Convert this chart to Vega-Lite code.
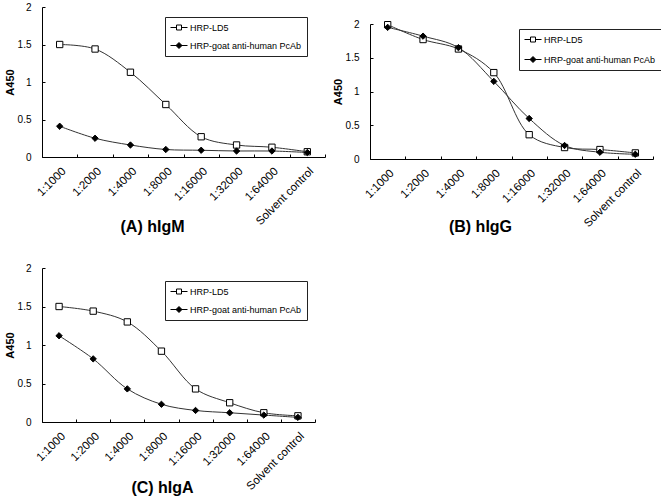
{
  "$schema": "https://vega.github.io/schema/vega-lite/v6.json",
  "background": "white",
  "padding": {"left": 4, "top": 2, "right": 0, "bottom": 0},
  "config": {
    "font": "Liberation Sans",
    "view": {"stroke": null},
    "axis": {"grid": false, "domainColor": "#000", "tickColor": "#000", "labelColor": "#000", "titleColor": "#000", "labelFont": "Liberation Sans", "titleFont": "Liberation Sans", "domainWidth": 1, "tickWidth": 1},
    "axisX": {"title": null, "labelAngle": -45, "labelFontSize": 11.5, "tickBand": "extent", "tickSize": -3, "labelPadding": 11},
    "axisY": {"values": [0, 0.5, 1, 1.5, 2], "format": "~g", "titleFontSize": 11, "titleFontWeight": "bold", "titlePadding": 2, "labelFontSize": 10, "tickSize": -3, "labelPadding": 14},
    "legend": {"title": null, "orient": "none", "fillColor": "white", "strokeColor": "#222", "padding": 5, "symbolSize": 100, "labelFontSize": 9, "labelOffset": 9, "labelColor": "#000", "labelFont": "Liberation Sans", "symbolStrokeWidth": 1, "symbolOpacity": 1},
    "title": {"font": "Liberation Sans", "color": "#000", "fontSize": 16, "fontWeight": "bold", "orient": "bottom", "frame": "group", "anchor": "middle"}
  },
  "datasets": {
    "d": [
      {"panel": "A", "series": "HRP-LD5", "dilution": "1:1000", "A450": 1.50},
      {"panel": "A", "series": "HRP-LD5", "dilution": "1:2000", "A450": 1.44},
      {"panel": "A", "series": "HRP-LD5", "dilution": "1:4000", "A450": 1.13},
      {"panel": "A", "series": "HRP-LD5", "dilution": "1:8000", "A450": 0.70},
      {"panel": "A", "series": "HRP-LD5", "dilution": "1:16000", "A450": 0.27},
      {"panel": "A", "series": "HRP-LD5", "dilution": "1:32000", "A450": 0.16},
      {"panel": "A", "series": "HRP-LD5", "dilution": "1:64000", "A450": 0.13},
      {"panel": "A", "series": "HRP-LD5", "dilution": "Solvent control", "A450": 0.07},
      {"panel": "A", "series": "HRP-goat anti-human PcAb", "dilution": "1:1000", "A450": 0.41},
      {"panel": "A", "series": "HRP-goat anti-human PcAb", "dilution": "1:2000", "A450": 0.25},
      {"panel": "A", "series": "HRP-goat anti-human PcAb", "dilution": "1:4000", "A450": 0.16},
      {"panel": "A", "series": "HRP-goat anti-human PcAb", "dilution": "1:8000", "A450": 0.10},
      {"panel": "A", "series": "HRP-goat anti-human PcAb", "dilution": "1:16000", "A450": 0.09},
      {"panel": "A", "series": "HRP-goat anti-human PcAb", "dilution": "1:32000", "A450": 0.08},
      {"panel": "A", "series": "HRP-goat anti-human PcAb", "dilution": "1:64000", "A450": 0.08},
      {"panel": "A", "series": "HRP-goat anti-human PcAb", "dilution": "Solvent control", "A450": 0.06},
      {"panel": "B", "series": "HRP-LD5", "dilution": "1:1000", "A450": 1.99},
      {"panel": "B", "series": "HRP-LD5", "dilution": "1:2000", "A450": 1.77},
      {"panel": "B", "series": "HRP-LD5", "dilution": "1:4000", "A450": 1.63},
      {"panel": "B", "series": "HRP-LD5", "dilution": "1:8000", "A450": 1.28},
      {"panel": "B", "series": "HRP-LD5", "dilution": "1:16000", "A450": 0.36},
      {"panel": "B", "series": "HRP-LD5", "dilution": "1:32000", "A450": 0.17},
      {"panel": "B", "series": "HRP-LD5", "dilution": "1:64000", "A450": 0.14},
      {"panel": "B", "series": "HRP-LD5", "dilution": "Solvent control", "A450": 0.09},
      {"panel": "B", "series": "HRP-goat anti-human PcAb", "dilution": "1:1000", "A450": 1.95},
      {"panel": "B", "series": "HRP-goat anti-human PcAb", "dilution": "1:2000", "A450": 1.82},
      {"panel": "B", "series": "HRP-goat anti-human PcAb", "dilution": "1:4000", "A450": 1.65},
      {"panel": "B", "series": "HRP-goat anti-human PcAb", "dilution": "1:8000", "A450": 1.15},
      {"panel": "B", "series": "HRP-goat anti-human PcAb", "dilution": "1:16000", "A450": 0.60},
      {"panel": "B", "series": "HRP-goat anti-human PcAb", "dilution": "1:32000", "A450": 0.20},
      {"panel": "B", "series": "HRP-goat anti-human PcAb", "dilution": "1:64000", "A450": 0.10},
      {"panel": "B", "series": "HRP-goat anti-human PcAb", "dilution": "Solvent control", "A450": 0.07},
      {"panel": "C", "series": "HRP-LD5", "dilution": "1:1000", "A450": 1.50},
      {"panel": "C", "series": "HRP-LD5", "dilution": "1:2000", "A450": 1.44},
      {"panel": "C", "series": "HRP-LD5", "dilution": "1:4000", "A450": 1.30},
      {"panel": "C", "series": "HRP-LD5", "dilution": "1:8000", "A450": 0.92},
      {"panel": "C", "series": "HRP-LD5", "dilution": "1:16000", "A450": 0.43},
      {"panel": "C", "series": "HRP-LD5", "dilution": "1:32000", "A450": 0.25},
      {"panel": "C", "series": "HRP-LD5", "dilution": "1:64000", "A450": 0.12},
      {"panel": "C", "series": "HRP-LD5", "dilution": "Solvent control", "A450": 0.08},
      {"panel": "C", "series": "HRP-goat anti-human PcAb", "dilution": "1:1000", "A450": 1.12},
      {"panel": "C", "series": "HRP-goat anti-human PcAb", "dilution": "1:2000", "A450": 0.82},
      {"panel": "C", "series": "HRP-goat anti-human PcAb", "dilution": "1:4000", "A450": 0.43},
      {"panel": "C", "series": "HRP-goat anti-human PcAb", "dilution": "1:8000", "A450": 0.23},
      {"panel": "C", "series": "HRP-goat anti-human PcAb", "dilution": "1:16000", "A450": 0.15},
      {"panel": "C", "series": "HRP-goat anti-human PcAb", "dilution": "1:32000", "A450": 0.12},
      {"panel": "C", "series": "HRP-goat anti-human PcAb", "dilution": "1:64000", "A450": 0.09},
      {"panel": "C", "series": "HRP-goat anti-human PcAb", "dilution": "Solvent control", "A450": 0.06}
    ]
  },
  "spacing": 6,
  "resolve": {"scale": {"shape": "independent", "fill": "independent"}, "legend": {"shape": "independent", "fill": "independent"}},
  "hconcat": [
    {
      "spacing": 28,
      "resolve": {"scale": {"shape": "independent", "fill": "independent"}, "legend": {"shape": "independent", "fill": "independent"}},
      "vconcat": [
        {
          "width": 283, "height": 150,
          "data": {"name": "d"},
          "transform": [{"filter": "datum.panel === 'A'"}],
          "title": {"text": "(A) hIgM", "offset": -8, "dx": -31},
          "encoding": {
            "x": {"field": "dilution", "type": "ordinal", "scale": {"type": "band", "domain": ["1:1000","1:2000","1:4000","1:8000","1:16000","1:32000","1:64000","Solvent control"], "paddingInner": 0, "paddingOuter": 0}},
            "y": {"field": "A450", "type": "quantitative", "scale": {"domain": [0, 2]}, "axis": {"title": "A450"}}
          },
          "layer": [
            {"mark": {"type": "line", "interpolate": "catmull-rom", "stroke": "#333", "strokeWidth": 1}, "encoding": {"detail": {"field": "series"}}},
            {"mark": {"type": "point", "filled": true, "size": 40, "stroke": "#000", "strokeWidth": 1, "opacity": 1},
             "encoding": {
               "shape": {"condition": {"test": "datum.series === 'HRP-LD5'", "value": "square"}, "value": "diamond"},
               "fill": {"condition": {"test": "datum.series === 'HRP-LD5'", "value": "white"}, "value": "black"}
             }},
            {"mark": {"type": "point", "filled": true, "size": 100, "stroke": "#000", "strokeWidth": 1, "opacity": 0},
             "encoding": {
               "shape": {"field": "series", "type": "nominal", "scale": {"domain": ["HRP-LD5", "HRP-goat anti-human PcAb"], "range": ["M-1,0H0.2M1.2,0H2.4M0.2,-0.5H1.2V0.5H0.2Z", "M-1,0H2.4M0.7,-0.6L1.3,0L0.7,0.6L0.1,0Z"]},
                 "legend": {"legendX": 123, "legendY": 10, "rowPadding": 7, "symbolOpacity": 1}},
               "fill": {"field": "series", "type": "nominal", "scale": {"domain": ["HRP-LD5", "HRP-goat anti-human PcAb"], "range": ["white", "black"]},
                 "legend": {"legendX": 123, "legendY": 10, "rowPadding": 7, "symbolOpacity": 1}}
             }}
          ]
        },
        {
          "width": 273, "height": 154,
          "data": {"name": "d"},
          "transform": [{"filter": "datum.panel === 'C'"}],
          "title": {"text": "(C) hIgA", "offset": -12, "dx": -16},
          "encoding": {
            "x": {"field": "dilution", "type": "ordinal", "scale": {"type": "band", "domain": ["1:1000","1:2000","1:4000","1:8000","1:16000","1:32000","1:64000","Solvent control"], "paddingInner": 0, "paddingOuter": 0}},
            "y": {"field": "A450", "type": "quantitative", "scale": {"domain": [0, 2]}, "axis": {"title": "A450"}}
          },
          "layer": [
            {"mark": {"type": "line", "interpolate": "catmull-rom", "stroke": "#333", "strokeWidth": 1}, "encoding": {"detail": {"field": "series"}}},
            {"mark": {"type": "point", "filled": true, "size": 40, "stroke": "#000", "strokeWidth": 1, "opacity": 1},
             "encoding": {
               "shape": {"condition": {"test": "datum.series === 'HRP-LD5'", "value": "square"}, "value": "diamond"},
               "fill": {"condition": {"test": "datum.series === 'HRP-LD5'", "value": "white"}, "value": "black"}
             }},
            {"mark": {"type": "point", "filled": true, "size": 100, "stroke": "#000", "strokeWidth": 1, "opacity": 0},
             "encoding": {
               "shape": {"field": "series", "type": "nominal", "scale": {"domain": ["HRP-LD5", "HRP-goat anti-human PcAb"], "range": ["M-1,0H0.2M1.2,0H2.4M0.2,-0.5H1.2V0.5H0.2Z", "M-1,0H2.4M0.7,-0.6L1.3,0L0.7,0.6L0.1,0Z"]},
                 "legend": {"legendX": 123, "legendY": 13, "rowPadding": 7, "symbolOpacity": 1}},
               "fill": {"field": "series", "type": "nominal", "scale": {"domain": ["HRP-LD5", "HRP-goat anti-human PcAb"], "range": ["white", "black"]},
                 "legend": {"legendX": 123, "legendY": 13, "rowPadding": 7, "symbolOpacity": 1}}
             }}
          ]
        }
      ]
    },
    {
      "spacing": 11,
      "resolve": {"scale": {"shape": "independent", "fill": "independent"}, "legend": {"shape": "independent", "fill": "independent"}},
      "vconcat": [
        {"width": 1, "height": 1, "data": {"values": []}, "mark": {"type": "point", "opacity": 0}, "encoding": {}},
        {
          "width": 283, "height": 135,
          "data": {"name": "d"},
          "transform": [{"filter": "datum.panel === 'B'"}],
          "title": {"text": "(B) hIgG", "offset": -10, "dx": -31},
          "encoding": {
            "x": {"field": "dilution", "type": "ordinal", "scale": {"type": "band", "domain": ["1:1000","1:2000","1:4000","1:8000","1:16000","1:32000","1:64000","Solvent control"], "paddingInner": 0, "paddingOuter": 0}},
            "y": {"field": "A450", "type": "quantitative", "scale": {"domain": [0, 2]}, "axis": {"title": "A450"}}
          },
          "layer": [
            {"mark": {"type": "line", "interpolate": "catmull-rom", "stroke": "#333", "strokeWidth": 1}, "encoding": {"detail": {"field": "series"}}},
            {"mark": {"type": "point", "filled": true, "size": 40, "stroke": "#000", "strokeWidth": 1, "opacity": 1},
             "encoding": {
               "shape": {"condition": {"test": "datum.series === 'HRP-LD5'", "value": "square"}, "value": "diamond"},
               "fill": {"condition": {"test": "datum.series === 'HRP-LD5'", "value": "white"}, "value": "black"}
             }},
            {"mark": {"type": "point", "filled": true, "size": 100, "stroke": "#000", "strokeWidth": 1, "opacity": 0},
             "encoding": {
               "shape": {"field": "series", "type": "nominal", "scale": {"domain": ["HRP-LD5", "HRP-goat anti-human PcAb"], "range": ["M-1,0H0.2M1.2,0H2.4M0.2,-0.5H1.2V0.5H0.2Z", "M-1,0H2.4M0.7,-0.6L1.3,0L0.7,0.6L0.1,0Z"]},
                 "legend": {"legendX": 149, "legendY": 5, "rowPadding": 9, "symbolOpacity": 1}},
               "fill": {"field": "series", "type": "nominal", "scale": {"domain": ["HRP-LD5", "HRP-goat anti-human PcAb"], "range": ["white", "black"]},
                 "legend": {"legendX": 149, "legendY": 5, "rowPadding": 9, "symbolOpacity": 1}}
             }}
          ]
        }
      ]
    }
  ]
}
